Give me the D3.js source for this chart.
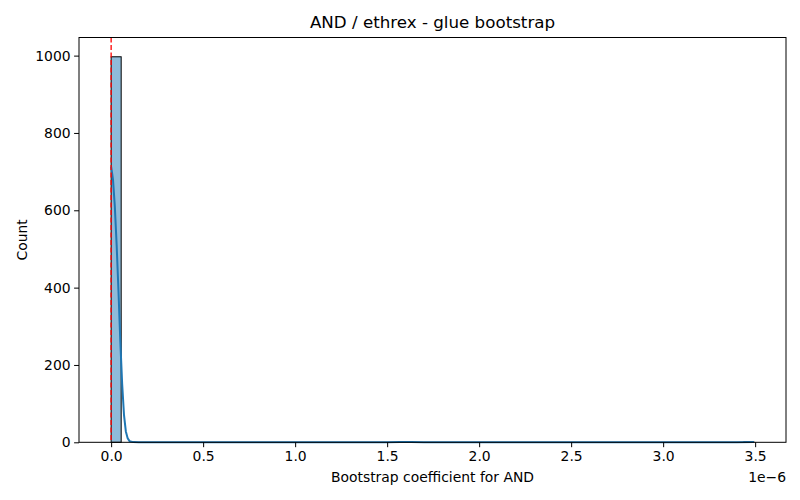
<!DOCTYPE html>
<html>
<head>
<meta charset="utf-8">
<script src="https://cdn.jsdelivr.net/npm/d3@7"></script>
<style>
  body { margin: 0; background: #fff; }
  text { font-family: "DejaVu Sans", sans-serif; fill: #000; }
</style>
</head>
<body>
<svg id="chart"></svg>
<script>
// values in units of 1e-6
var binStart = 0;
var binWidth = 3.493 / 64;
var binCounts = [997, 0, 0, 0, 0, 0, 0, 0, 0, 0, 0, 0, 0, 0, 0, 0,
                 0, 0, 0, 0, 0, 0, 0, 0, 0, 0, 0, 0, 0, 2, 0, 0,
                 0, 0, 0, 0, 0, 0, 0, 0, 0, 0, 0, 0, 0, 0, 0, 0,
                 0, 0, 0, 0, 0, 0, 0, 0, 0, 0, 0, 0, 0, 0, 0, 1];
var kdeX = [0, 0.01, 0.02, 0.03, 0.04, 0.05, 0.06, 0.07, 0.08, 0.09, 0.10, 0.12, 0.15,
            0.5, 1.0, 1.5, 1.57, 1.6, 1.63, 1.7, 2.0, 2.5, 3.0, 3.4, 3.493];
var kdeY = [713, 680, 610, 510, 390, 260, 150, 70, 28, 10, 3, 0.5, 0,
            0, 0, 0, 0.6, 1, 0.6, 0, 0, 0, 0, 0.3, 0.5];
var xTicks = [0, 0.5, 1.0, 1.5, 2.0, 2.5, 3.0, 3.5];
var yTicks = [0, 200, 400, 600, 800, 1000];
var refLine = 0;

function drawChart(width, height) {
    var margin = {"top": 37.5, "right": 14, "bottom": 57.7, "left": 79};

    var svg = d3.select('#chart')
        .attr("width", width)
        .attr("height", height);
    svg.selectAll("*").remove();

    var xMin = binStart, xMax = binStart + binWidth * binCounts.length;
    var xPad = (xMax - xMin) * 0.05;
    var xScale = d3.scaleLinear()
        .domain([xMin - xPad, xMax + xPad])
        .range([margin.left, width - margin.right]);

    var yMax = d3.max(binCounts) * 1.05;
    var yScale = d3.scaleLinear()
        .domain([0, yMax])
        .range([height - margin.bottom, margin.top]);

    // bars
    binCounts.forEach(function(c, i) {
        if (c === 0) return;
        var x0 = binStart + i * binWidth;
        svg.append('rect')
            .attr('x', xScale(x0))
            .attr('y', yScale(c))
            .attr('width', xScale(x0 + binWidth) - xScale(x0))
            .attr('height', yScale(0) - yScale(c))
            .attr('fill', 'rgba(31,119,180,0.5)')
            .attr('stroke', '#000')
            .attr('stroke-width', 1);
    });

    // kde
    var line = d3.line()
        .x(function(d, i) { return xScale(kdeX[i]); })
        .y(function(d) { return yScale(d); });
    svg.append('path')
        .datum(kdeY)
        .attr('d', line)
        .attr('fill', 'none')
        .attr('stroke', '#1f77b4')
        .attr('stroke-width', 2);

    // reference line
    svg.append('line')
        .attr('x1', xScale(refLine)).attr('x2', xScale(refLine))
        .attr('y1', margin.top).attr('y2', height - margin.bottom)
        .attr('stroke', 'red')
        .attr('stroke-width', 1.3)
        .attr('stroke-dasharray', '5,2.5');

    // axes
    var xAxis = d3.axisBottom(xScale)
        .tickValues(xTicks)
        .tickFormat(d3.format('.1f'))
        .tickSize(4.9)
        .tickPadding(3.5);
    var gx = svg.append('g')
        .attr('transform', 'translate(' + [0, height - margin.bottom] + ')')
        .call(xAxis);

    var yAxis = d3.axisLeft(yScale)
        .tickValues(yTicks)
        .tickFormat(d3.format('d'))
        .tickSize(4.9)
        .tickPadding(3.5);
    var gy = svg.append('g')
        .attr('transform', 'translate(' + [margin.left, 0] + ')')
        .call(yAxis);

    [gx, gy].forEach(function(g) {
        g.select('.domain').remove();
        g.selectAll('.tick line').attr('stroke', '#000').attr('stroke-width', 1);
        g.selectAll('.tick text').style('font-size', '13.9px')
            .style('font-family', '"DejaVu Sans", sans-serif');
    });

    // frame
    svg.append('rect')
        .attr('x', margin.left)
        .attr('y', margin.top)
        .attr('width', width - margin.left - margin.right)
        .attr('height', height - margin.top - margin.bottom)
        .attr('fill', 'none')
        .attr('stroke', '#000')
        .attr('stroke-width', 1);

    var cx = (margin.left + width - margin.right) / 2;

    svg.append('text')
        .attr('x', cx).attr('y', 28)
        .attr('text-anchor', 'middle')
        .style('font-size', '16.7px')
        .text('AND / ethrex - glue bootstrap');

    svg.append('text')
        .attr('x', cx).attr('y', 482)
        .attr('text-anchor', 'middle')
        .style('font-size', '13.9px')
        .text('Bootstrap coefficient for AND');

    svg.append('text')
        .attr('x', width - margin.right).attr('y', 482)
        .attr('text-anchor', 'end')
        .style('font-size', '13.9px')
        .text('1e\u22126');

    svg.append('text')
        .attr('transform', 'translate(26.5 ' + (margin.top + height - margin.bottom) / 2 + ') rotate(-90)')
        .attr('text-anchor', 'middle')
        .style('font-size', '13.9px')
        .text('Count');
}

drawChart(800, 500);
</script>
</body>
</html>
